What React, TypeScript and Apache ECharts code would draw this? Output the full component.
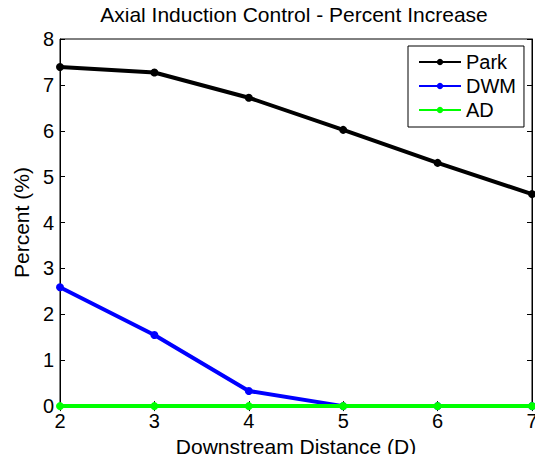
import React, { useEffect, useRef } from "react";
import * as echarts from "echarts";

const distances = [2, 3, 4, 5, 6, 7];
const parkValues = [7.39, 7.27, 6.72, 6.02, 5.3, 4.62];
const dwmValues = [2.59, 1.55, 0.33, 0, 0, 0];
const adValues = [0, 0, 0, 0, 0, 0];
const seriesNames = ["Park", "DWM", "AD"];
const seriesColors = ["#000000", "#0000ff", "#00ff00"];

const FONT = "Liberation Sans, Arial, sans-serif";

export default function App() {
  const ref = useRef<HTMLDivElement>(null);
  useEffect(() => {
    if (!ref.current) return;
    const chart = echarts.init(ref.current, null, { renderer: "svg" });
    const allValues = [parkValues, dwmValues, adValues];
    const tickCommon = { show: true, inside: true, length: 5, lineStyle: { color: "#000" } };
    chart.setOption({
      animation: false,
      backgroundColor: "#fff",
      textStyle: { fontFamily: FONT },
      title: {
        text: "Axial Induction Control - Percent Increase",
        left: 294,
        textAlign: "center",
        top: 4,
        padding: 0,
        textStyle: { fontFamily: FONT, fontSize: 21, fontWeight: "normal", color: "#000" },
      },
      legend: {
        data: seriesNames,
        orient: "vertical",
        left: 408,
        top: 46,
        itemWidth: 42,
        itemHeight: 8,
        itemGap: 4,
        padding: [6, 8, 7, 10],
        borderColor: "#000",
        borderWidth: 1,
        backgroundColor: "#fff",
        textStyle: { fontFamily: FONT, fontSize: 20, color: "#000" },
      },
      grid: {
        left: 60,
        top: 39,
        right: 11,
        bottom: 55,
        show: true,
        borderColor: "#000",
        borderWidth: 1,
      },
      xAxis: [
        {
          type: "value",
          min: 2,
          max: 7,
          interval: 1,
          position: "bottom",
          name: "Downstream Distance (D)",
          nameLocation: "middle",
          nameGap: 28,
          nameTextStyle: { fontFamily: FONT, fontSize: 21, color: "#000" },
          axisLine: { show: true, lineStyle: { color: "#000" } },
          axisTick: tickCommon,
          axisLabel: { fontFamily: FONT, fontSize: 20, color: "#000", margin: 5 },
          splitLine: { show: false },
        },
        {
          type: "value",
          min: 2,
          max: 7,
          interval: 1,
          position: "top",
          axisLine: { show: true, lineStyle: { color: "#000" } },
          axisTick: tickCommon,
          axisLabel: { show: false },
          splitLine: { show: false },
        },
      ],
      yAxis: [
        {
          type: "value",
          min: 0,
          max: 8,
          interval: 1,
          position: "left",
          name: "Percent (%)",
          nameLocation: "middle",
          nameGap: 25,
          nameTextStyle: { fontFamily: FONT, fontSize: 21, color: "#000" },
          axisLine: { show: true, lineStyle: { color: "#000" } },
          axisTick: tickCommon,
          axisLabel: { fontFamily: FONT, fontSize: 20, color: "#000", margin: 6 },
          splitLine: { show: false },
        },
        {
          type: "value",
          min: 0,
          max: 8,
          interval: 1,
          position: "right",
          axisLine: { show: true, lineStyle: { color: "#000" } },
          axisTick: tickCommon,
          axisLabel: { show: false },
          splitLine: { show: false },
        },
      ],
      series: seriesNames.map((name, i) => ({
        name,
        type: "line",
        xAxisIndex: 0,
        yAxisIndex: 0,
        data: distances.map((d, j) => [d, allValues[i][j]]),
        symbol: "circle",
        symbolSize: 8,
        lineStyle: { width: 4, color: seriesColors[i] },
        itemStyle: { color: seriesColors[i] },
        z: 3 + i,
      })),
    });
    return () => chart.dispose();
  }, []);
  return <div ref={ref} style={{ width: 543, height: 462, margin: -8 }} />;
}
